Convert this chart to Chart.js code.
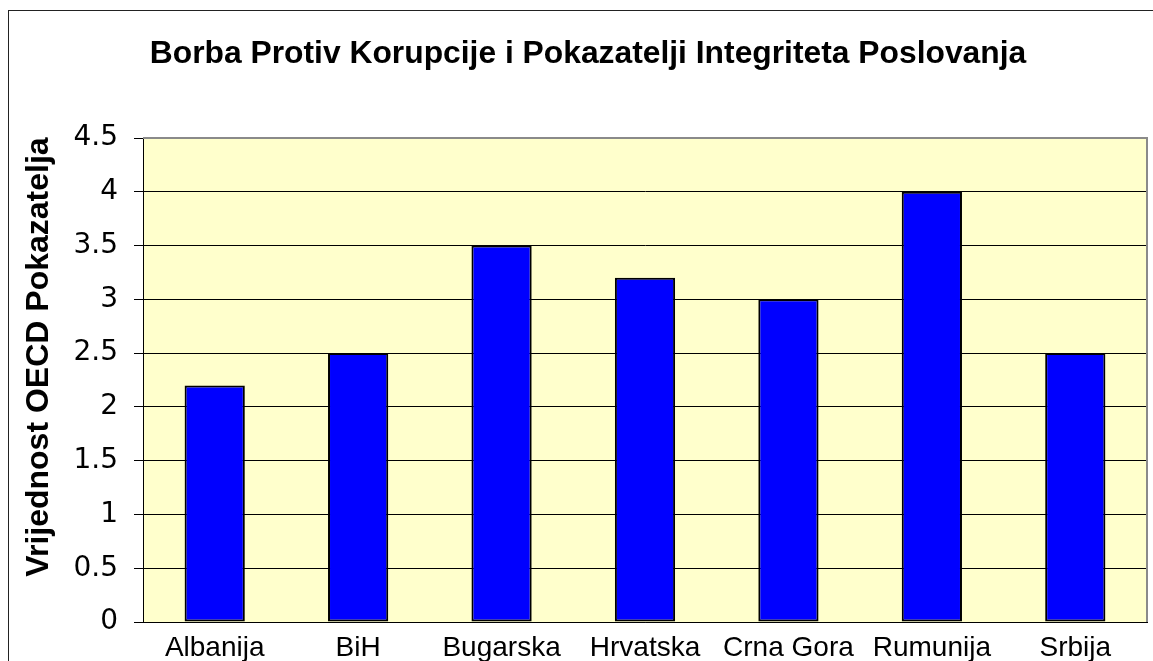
<!DOCTYPE html>
<html>
<head>
<meta charset="utf-8">
<script src="https://cdn.jsdelivr.net/npm/chart.js@4"></script>
<style>
  body { margin: 0; background: #fff; overflow: hidden; }
  #frame {
    position: absolute; left: 8px; top: 10px;
    width: 1300px; height: 800px;
    border: 1px solid #222;
  }
  #chart { position: absolute; left: 0; top: 0; }
</style>
</head>
<body>
<div id="frame"></div>
<canvas id="chart" width="1153" height="661"></canvas>
<script>
const chartTitle = "Borba Protiv Korupcije i Pokazatelji Integriteta Poslovanja";
const yTitle = "Vrijednost OECD Pokazatelja";
const countries = ["Albanija", "BiH", "Bugarska", "Hrvatska", "Crna Gora", "Rumunija", "Srbija"];
const scores = [2.2, 2.5, 3.5, 3.2, 3.0, 4.0, 2.5];
const yMin = 0;
const yMax = 4.5;
const yStep = 0.5;

// plot area fill, grey frame on top/right, and the two titles
const decor = {
  id: "decor",
  beforeDraw(chart) {
    const { ctx, chartArea: a } = chart;
    ctx.save();
    ctx.fillStyle = "#FFFFCC";
    ctx.fillRect(a.left, a.top, a.right - a.left, a.bottom - a.top);
    ctx.restore();
  },
  afterDraw(chart) {
    const { ctx, chartArea: a } = chart;
    ctx.save();
    ctx.strokeStyle = "#8a8a8a";
    ctx.lineWidth = 2;
    ctx.beginPath();
    ctx.moveTo(a.left, a.top);
    ctx.lineTo(a.right, a.top);
    ctx.lineTo(a.right, a.bottom);
    ctx.stroke();

    ctx.fillStyle = "#000";
    ctx.font = "bold 31.8px 'Liberation Sans', Arial, sans-serif";
    ctx.textAlign = "center";
    ctx.textBaseline = "alphabetic";
    ctx.fillText(chartTitle, 588, 63);

    ctx.font = "bold 32px 'Liberation Sans', Arial, sans-serif";
    ctx.translate(48, 357);
    ctx.rotate(-Math.PI / 2);
    ctx.fillText(yTitle, 0, 0);
    ctx.restore();
  }
};

new Chart(document.getElementById("chart"), {
  type: "bar",
  data: {
    labels: countries,
    datasets: [{
      data: scores,
      backgroundColor: "#0000FF",
      borderColor: "#000",
      borderWidth: 2,
      borderSkipped: false,
      barPercentage: 0.42,
      categoryPercentage: 1
    }]
  },
  options: {
    responsive: false,
    animation: false,
    layout: { padding: { left: 0, right: 6, top: 138, bottom: 0 } },
    plugins: {
      legend: { display: false },
      title: { display: false },
      tooltip: { enabled: false }
    },
    scales: {
      x: {
        afterFit: (s) => { s.height = 39; },
        grid: { display: false, drawTicks: false },
        border: { color: "#000", width: 1 },
        ticks: {
          padding: 9,
          color: "#000",
          font: { family: "'Liberation Sans', Arial, sans-serif", size: 28 }
        }
      },
      y: {
        min: yMin,
        max: yMax,
        afterFit: (s) => { s.width = 143; },
        grid: {
          color: (c) => (c.tick && c.tick.value === yMax ? "rgba(0,0,0,0)" : "#000"),
          tickColor: "#000",
          tickLength: 9,
          lineWidth: 1
        },
        border: { color: "#000", width: 1 },
        ticks: {
          stepSize: yStep,
          padding: 16,
          color: "#000",
          font: { family: "'DejaVu Sans', Verdana, sans-serif", size: 28 },
          callback: (v) => String(Math.round(v * 10) / 10)
        }
      }
    }
  },
  plugins: [decor]
});
</script>
</body>
</html>
